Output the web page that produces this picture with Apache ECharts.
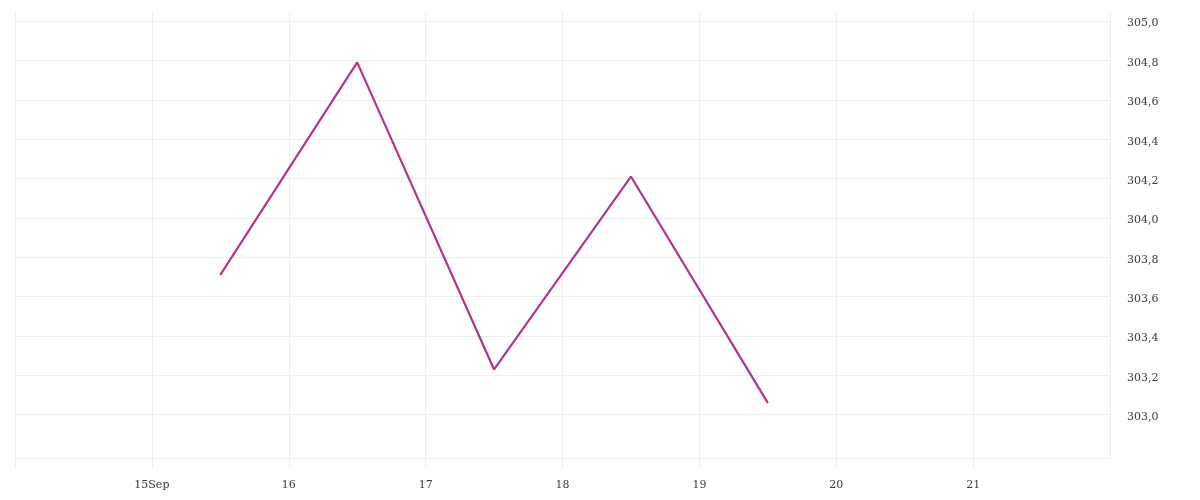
<!DOCTYPE html>
<html>
<head>
<meta charset="utf-8">
<script src="https://cdn.jsdelivr.net/npm/echarts@6/dist/echarts.min.js"></script>
<style>
html,body{margin:0;padding:0;background:#fff;}
#chart{width:1200px;height:500px;}
</style>
</head>
<body>
<div id="chart"></div>
<script>
// Data
var dates = ['2023-09-15T12:00:00Z','2023-09-16T12:00:00Z','2023-09-17T12:00:00Z','2023-09-18T12:00:00Z','2023-09-19T12:00:00Z'];
var values = [303.71, 304.79, 303.23, 304.21, 303.06];
var yTicks = [303.0, 303.2, 303.4, 303.6, 303.8, 304.0, 304.2, 304.4, 304.6, 304.8, 305.0];
var xTickDays = [15, 16, 17, 18, 19, 20, 21];
var xTickLabels = ['15Sep', '16', '17', '18', '19', '20', '21'];

var gridColor = '#eeeeee';
var labelFont = 'DejaVu Serif';

var seriesData = dates.map(function (d, i) { return [Date.parse(d), values[i]]; });

var chart = echarts.init(document.getElementById('chart'));
chart.setOption({
  animation: false,
  grid: { left: 15, right: 90, top: 12, bottom: 42, containLabel: false },
  xAxis: {
    type: 'time',
    min: Date.UTC(2023, 8, 14),
    max: Date.UTC(2023, 8, 22),
    minInterval: 86400000,
    maxInterval: 86400000,
    axisLine: { show: true, lineStyle: { color: gridColor, width: 1 } },
    axisTick: { show: true, length: 10, lineStyle: { color: gridColor } },
    splitLine: { show: true, lineStyle: { color: gridColor, width: 1 } },
    axisLabel: {
      color: '#3a3a3a',
      fontFamily: labelFont,
      fontSize: 11,
      margin: 22,
      showMinLabel: false,
      showMaxLabel: false,
      hideOverlap: false,
      formatter: function (v) {
        var d = new Date(v).getUTCDate();
        var i = xTickDays.indexOf(d);
        return i >= 0 ? xTickLabels[i] : '';
      }
    }
  },
  yAxis: {
    type: 'value',
    position: 'right',
    min: 302.78,
    max: 305.046,
    axisLine: { show: true, lineStyle: { color: gridColor, width: 1 } },
    axisTick: { show: false, customValues: yTicks },
    splitLine: { show: true, lineStyle: { color: gridColor, width: 1 } },
    axisLabel: {
      customValues: yTicks,
      color: '#3a3a3a',
      fontFamily: labelFont,
      fontSize: 11,
      margin: 17,
      verticalAlign: 'top',
      lineHeight: 5,
      formatter: function (v) { return v.toFixed(1).replace('.', ','); }
    }
  },
  series: [{
    type: 'line',
    data: seriesData,
    showSymbol: false,
    symbol: 'none',
    lineStyle: { color: '#b5338a', width: 2.2 },
    itemStyle: { color: '#b5338a' }
  }]
});
</script>
</body>
</html>
